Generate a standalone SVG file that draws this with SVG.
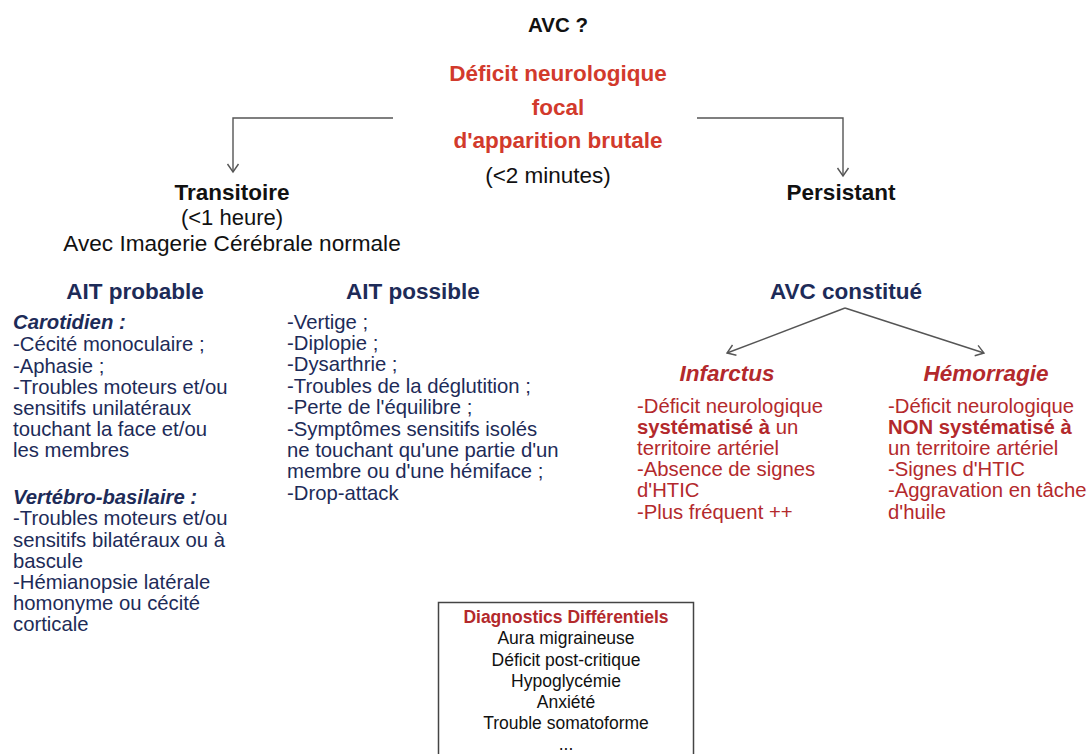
<svg xmlns="http://www.w3.org/2000/svg" width="1088" height="754" viewBox="0 0 1088 754">
<defs>
<marker id="arr" markerWidth="14" markerHeight="14" refX="10" refY="7" orient="auto" markerUnits="userSpaceOnUse">
<path d="M2,1.5 L10,7 L2,12.5" fill="none" stroke="#555" stroke-width="1.4"/>
</marker>
<style>
text{font-family:"Liberation Sans",Arial,Helvetica,sans-serif}
.blk{fill:#111}
.hd{font-size:22.5px;font-weight:bold}
.red{fill:#d23a2c}
.navy{fill:#1d2b58}
.dred{fill:#b3292c}
.body{font-size:20.3px}
.c{text-anchor:middle}
.dd{font-size:17.5px}
.conn{fill:none;stroke:#555;stroke-width:1.4}
</style>
</defs>
<rect width="1088" height="754" fill="#fff"/>

<g id="connectors">
<path class="conn" d="M393,118 H233 V172" marker-end="url(#arr)"/>
<path class="conn" d="M697,118 H843 V176" marker-end="url(#arr)"/>
<path class="conn" d="M845,308 L727,353" marker-end="url(#arr)"/>
<path class="conn" d="M845,308 L984,353" marker-end="url(#arr)"/>
</g>

<g id="title">
<text class="blk c" x="558" y="32" font-size="20.5" font-weight="bold">AVC ?</text>
</g>

<g id="deficit">
<text class="red c hd" x="558" y="81">Déficit neurologique</text>
<text class="red c hd" x="558" y="115">focal</text>
<text class="red c hd" x="558" y="148">d'apparition brutale</text>
<text class="blk c" x="548" y="183" font-size="22.5">(&lt;2 minutes)</text>
</g>

<g id="transitoire">
<text class="blk c hd" x="232" y="200">Transitoire</text>
<text class="blk c" x="232" y="225" font-size="22">(&lt;1 heure)</text>
<text class="blk c" x="232" y="251" font-size="22.6">Avec Imagerie Cérébrale normale</text>
</g>

<g id="persistant">
<text class="blk c hd" x="841" y="200">Persistant</text>
</g>

<g id="ait-probable">
<text class="navy c hd" x="135" y="299">AIT probable</text>
<text class="navy body" x="13" y="329" font-weight="bold" font-style="italic">Carotidien :</text>
<text class="navy body" x="13" y="351">-Cécité monoculaire ;</text>
<text class="navy body" x="13" y="373">-Aphasie ;</text>
<text class="navy body" x="13" y="394">-Troubles moteurs et/ou</text>
<text class="navy body" x="13" y="415">sensitifs unilatéraux</text>
<text class="navy body" x="13" y="436">touchant la face et/ou</text>
<text class="navy body" x="13" y="457">les membres</text>
<text class="navy body" x="13" y="504" font-weight="bold" font-style="italic">Vertébro-basilaire :</text>
<text class="navy body" x="13" y="525">-Troubles moteurs et/ou</text>
<text class="navy body" x="13" y="547">sensitifs bilatéraux ou à</text>
<text class="navy body" x="13" y="568">bascule</text>
<text class="navy body" x="13" y="589">-Hémianopsie latérale</text>
<text class="navy body" x="13" y="610">homonyme ou cécité</text>
<text class="navy body" x="13" y="631">corticale</text>
</g>

<g id="ait-possible">
<text class="navy c hd" x="413" y="299">AIT possible</text>
<text class="navy body" x="287" y="329">-Vertige ;</text>
<text class="navy body" x="287" y="350">-Diplopie ;</text>
<text class="navy body" x="287" y="371">-Dysarthrie ;</text>
<text class="navy body" x="287" y="393">-Troubles de la déglutition ;</text>
<text class="navy body" x="287" y="414">-Perte de l'équilibre ;</text>
<text class="navy body" x="287" y="436">-Symptômes sensitifs isolés</text>
<text class="navy body" x="287" y="457">ne touchant qu'une partie d'un</text>
<text class="navy body" x="287" y="478">membre ou d'une hémiface ;</text>
<text class="navy body" x="287" y="500">-Drop-attack</text>
</g>

<g id="avc-constitue">
<text class="navy c hd" x="846" y="299">AVC constitué</text>
</g>

<g id="infarctus">
<text class="dred c hd" x="727" y="381" font-style="italic">Infarctus</text>
<text class="dred body" x="637" y="413">-Déficit neurologique</text>
<text class="dred body" x="637" y="434"><tspan font-weight="bold">systématisé à</tspan> un</text>
<text class="dred body" x="637" y="455">territoire artériel</text>
<text class="dred body" x="637" y="476">-Absence de signes</text>
<text class="dred body" x="637" y="497">d'HTIC</text>
<text class="dred body" x="637" y="519">-Plus fréquent ++</text>
</g>

<g id="hemorragie">
<text class="dred c hd" x="986" y="381" font-style="italic">Hémorragie</text>
<text class="dred body" x="888" y="413">-Déficit neurologique</text>
<text class="dred body" x="888" y="434" font-weight="bold">NON systématisé à</text>
<text class="dred body" x="888" y="455">un territoire artériel</text>
<text class="dred body" x="888" y="476">-Signes d'HTIC</text>
<text class="dred body" x="888" y="497">-Aggravation en tâche</text>
<text class="dred body" x="888" y="519">d'huile</text>
</g>

<g id="diagnostics">
<rect x="438.5" y="602.5" width="255" height="160" fill="none" stroke="#444" stroke-width="1.5"/>
<text class="dred c dd" x="566" y="623" font-weight="bold">Diagnostics Différentiels</text>
<text class="blk c dd" x="566" y="644">Aura migraineuse</text>
<text class="blk c dd" x="566" y="666">Déficit post-critique</text>
<text class="blk c dd" x="566" y="687">Hypoglycémie</text>
<text class="blk c dd" x="566" y="708">Anxiété</text>
<text class="blk c dd" x="566" y="729">Trouble somatoforme</text>
<text class="blk c dd" x="566" y="750">...</text>
</g>
</svg>
